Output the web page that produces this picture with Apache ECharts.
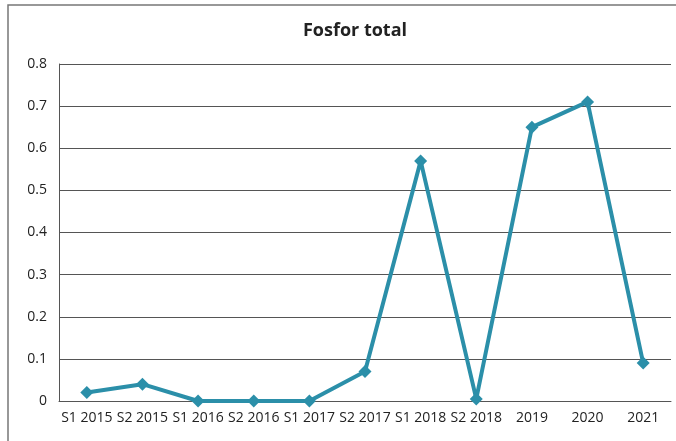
<!DOCTYPE html>
<html>
<head>
<meta charset="utf-8">
<script src="https://cdn.jsdelivr.net/npm/echarts@6/dist/echarts.min.js"></script>
<style>
  html, body { margin: 0; padding: 0; background: #fff; }
  #chart { width: 676px; height: 441px; }
</style>
</head>
<body>
<div id="chart"></div>
<script>
const categories = ['S1 2015', 'S2 2015', 'S1 2016', 'S2 2016', 'S1 2017', 'S2 2017', 'S1 2018', 'S2 2018', '2019', '2020', '2021']
const fosforValues = [0.02, 0.04, 0, 0, 0, 0.07, 0.57, 0.005, 0.65, 0.71, 0.09]

const lineColor = '#2b8fa9'
const gridColor = '#555'

const myChart = echarts.init(document.getElementById('chart'))

const option = {
  backgroundColor: '#fff',
  animation: false,
  title: {
    text: 'Fosfor total',
    left: 350,
    textAlign: 'center',
    top: 17,
    textStyle: {
      fontFamily: 'Open Sans',
      fontSize: 18,
      fontWeight: 'bold',
      color: '#222'
    }
  },
  // scanned page frame
  graphic: [
    {
      type: 'rect',
      shape: { x: 8, y: 5, width: 680, height: 450 },
      style: { fill: 'none', stroke: '#777', lineWidth: 1.5 }
    }
  ],
  grid: {
    left: 59,
    right: 5,
    top: 64,
    bottom: 40
  },
  xAxis: {
    type: 'category',
    data: categories,
    boundaryGap: true,
    axisTick: { show: false },
    axisLine: { show: true, lineStyle: { color: gridColor, width: 1 } },
    axisLabel: {
      interval: 0,
      margin: 10,
      fontFamily: 'Open Sans',
      fontSize: 14,
      color: '#222'
    }
  },
  yAxis: {
    type: 'value',
    min: 0,
    max: 0.8,
    interval: 0.1,
    axisLine: { show: true, lineStyle: { color: gridColor, width: 1 } },
    axisTick: { show: false },
    splitLine: { show: true, lineStyle: { color: gridColor, width: 1 } },
    axisLabel: {
      margin: 12,
      fontFamily: 'Open Sans',
      fontSize: 14,
      color: '#222',
      formatter: (v) => (v === 0 ? '0' : String(Math.round(v * 10) / 10))
    }
  },
  series: [
    {
      name: 'Fosfor total',
      type: 'line',
      data: fosforValues,
      symbol: 'diamond',
      symbolSize: 13,
      showAllSymbol: true,
      lineStyle: { color: lineColor, width: 4 },
      itemStyle: { color: lineColor }
    }
  ]
}

myChart.setOption(option)
</script>
</body>
</html>
